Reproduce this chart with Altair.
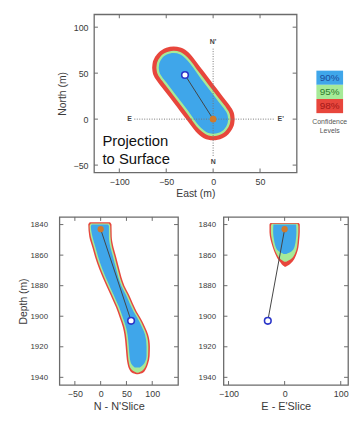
import altair as alt
import pandas as pd

FONT = "Liberation Sans"
FRAME = "#6b6b6b"
TXT = "#3a3a3a"
RED, GREEN, BLUE = "#e8463c", "#a6ea98", "#3fa6ea"

# ---------------- Top panel: projection to surface ----------------
# confidence contours: East value, lower / upper North (m)
red_e = [-65, -64.5, -63, -60, -55, -50, -42, -35, -28, -23.6, -18.4, -10, 0, 10, 18.4, 21, 22.5, 23]
red_lo = [56, 51.2, 46.6, 41.7, 35.0, 28.3, 17.7, 8.3, -1.0, -6.9, -13.8, -20.7, -23, -20.7, -13.8, -9.4, -4.8, 0]
red_hi = [56, 60.8, 65.4, 70.3, 75, 77.6, 79, 77.9, 74.2, 69.8, 62.9, 51.7, 38.3, 25.0, 13.8, 9.4, 4.8, 0]

green_e = [-60.5, -60, -59, -56.8, -52, -42, -35, -27.2, -14.8, -5, 0, 8, 14.8, 17, 18, 18.5]
green_lo = [56, 51.7, 48.7, 44.9, 38.5, 25.2, 15.8, 5.4, -11.1, -17.8, -18.5, -16.7, -11.1, -7.3, -4.3, 0]
green_hi = [56, 60.3, 63.3, 67.1, 71.6, 74.5, 73.1, 67.1, 50.6, 37.5, 30.8, 20.2, 11.1, 7.3, 4.3, 0]

blue_e = [-58, -57.5, -57, -54.8, -50, -42, -35, -29.2, -12.8, -5, 0, 6, 12.8, 15, 15.5, 16]
blue_lo = [56, 52, 50.4, 46.4, 40.0, 29.3, 20.0, 12.3, -9.6, -15.2, -16, -14.8, -9.6, -5.6, -4.0, 0]
blue_hi = [56, 60, 61.6, 65.6, 69.9, 72, 70.4, 65.6, 43.7, 33.3, 26.7, 18.7, 9.6, 5.6, 4.0, 0]

# hypocentre estimates (East, North, Depth)
start_e, start_n, start_d = -30, 48, 1903   # blue circle
end_e, end_n, end_d = 0, 0, 1843            # orange dot
nn_start_x = 59                             # blue circle on the N-N' slice

# section lines and labels
ee_line = {"x": [-84], "x2": [66], "y": [0]}
nn_line = {"x": [0], "y": [-40], "y2": [77]}
sec_lab = ["E", "E'", "N'", "N"]
sec_x = [-89, 72, 0, 0]
sec_y = [0, 0, 84, -47]

top_xticks = [-100, -50, 0, 50]
top_yticks = [-50, 0, 50, 100]

# ---------------- N - N' slice ----------------
nn_red_d = [1838.5, 1840, 1848, 1855, 1861, 1869, 1880, 1886, 1897, 1901, 1907, 1912, 1920, 1926, 1931, 1935, 1937, 1938]
nn_red_l = [-21, -24, -22, -16, -11, -3, 11, 19, 33, 37, 43, 46, 48.5, 50, 52, 56, 61, 70]
nn_red_r = [18, 21, 21.5, 25, 30, 36, 46, 55, 70, 77, 86, 92, 95.5, 95, 92, 87, 82, 72]

nn_green_d = [1839.3, 1841, 1848, 1855, 1861, 1869, 1880, 1886, 1897, 1901, 1907, 1912, 1920, 1926, 1931, 1934, 1936, 1937]
nn_green_l = [-19, -21.5, -19, -13, -8, 0, 14, 22, 36, 40, 46, 49, 51.5, 53, 55, 58, 64, 70]
nn_green_r = [16, 18.5, 19, 22, 27, 33, 43, 52, 67, 74, 83, 89, 92.5, 92, 89, 85, 79, 73]

nn_blue_d = [1840, 1841, 1848, 1855, 1861, 1869, 1880, 1886, 1897, 1901, 1907, 1912, 1920, 1926, 1930, 1932, 1933.5]
nn_blue_l = [-17, -19, -16, -10, -5, 3, 17, 25, 39, 43, 49, 52, 54.5, 56, 58, 61, 66]
nn_blue_r = [14, 16, 16, 19, 24, 30, 40, 49, 64, 71, 80, 86, 89, 89, 86, 82, 76]

nn_xticks = [-50, 0, 50, 100]

# ---------------- E - E' slice ----------------
ee_red_d = [1839, 1840, 1845, 1850, 1855, 1859, 1862, 1865, 1866.8, 1867.6]
ee_red_l = [-25, -27, -27, -25, -21, -17, -13, -7, -3, 0]
ee_red_r = [25, 27, 27, 26, 24.5, 21.5, 18, 12, 6, 2]

ee_green_d = [1839.5, 1841, 1845, 1850, 1855, 1859, 1862, 1863.5, 1864.3]
ee_green_l = [-23, -24.5, -24.5, -22.5, -19, -14.5, -9, -4, -1]
ee_green_r = [23, 24.5, 24.5, 23.5, 22, 18.5, 13, 7, 3]

ee_blue_d = [1840, 1845, 1850, 1854, 1857, 1858.5, 1859.2]
ee_blue_l = [-20, -20.5, -19, -16.5, -12, -6, -2]
ee_blue_r = [20.5, 21, 20, 18, 14, 8, 3]

ee_xticks = [-100, 0, 100]
depth_ticks = [1840, 1860, 1880, 1900, 1920, 1940]

# ---------------- legend ----------------
levels = ["90%", "95%", "98%"]
level_fill = [BLUE, GREEN, RED]
level_txt = ["#1b4b9b", "#2e7d2e", "#a31818"]


class Panel:
    def __init__(self, xs, ys, xaxis, yaxis):
        self.xs, self.ys, self.xaxis, self.yaxis = xs, ys, xaxis, yaxis

    def X(self, f):
        return alt.X(f, scale=self.xs, axis=self.xaxis)

    def Y(self, f):
        return alt.Y(f, scale=self.ys, axis=self.yaxis)


def frame_ticks(p, xvals, yvals, w, h, L=4):
    xt = alt.Chart(pd.DataFrame({"v": xvals})).mark_rule(color=FRAME, strokeWidth=1)
    yt = alt.Chart(pd.DataFrame({"v": yvals})).mark_rule(color=FRAME, strokeWidth=1)
    return [
        xt.encode(x=p.X("v:Q"), y=alt.value(h), y2=alt.value(h - L)),
        xt.encode(x=p.X("v:Q"), y=alt.value(0), y2=alt.value(L)),
        yt.encode(y=p.Y("v:Q"), x=alt.value(0), x2=alt.value(L)),
        yt.encode(y=p.Y("v:Q"), x=alt.value(w), x2=alt.value(w - L)),
    ]


# ---------- top chart ----------
TW, TH = 205, 160
tp = Panel(alt.Scale(domain=[-127, 89], nice=False, zero=False),
           alt.Scale(domain=[-58, 114], nice=False, zero=False),
           alt.Axis(values=top_xticks, title="East (m)", labelPadding=5, titlePadding=2),
           alt.Axis(values=top_yticks, title="North (m)", labelPadding=6, titlePadding=6))


def top_area(e, lo, hi, color):
    df = pd.DataFrame({"e": e, "lo": lo, "hi": hi})
    return alt.Chart(df).mark_area(color=color, interpolate="monotone").encode(
        x=tp.X("e:Q"), y=tp.Y("lo:Q"), y2="hi:Q")


top_layers = [
    top_area(red_e, red_lo, red_hi, RED),
    top_area(green_e, green_lo, green_hi, GREEN),
    top_area(blue_e, blue_lo, blue_hi, BLUE),
]
dot = dict(color="#777777", strokeWidth=1, strokeDash=[1, 1.5])
top_layers.append(alt.Chart(pd.DataFrame(ee_line)).mark_rule(**dot).encode(
    x=tp.X("x:Q"), x2="x2:Q", y=tp.Y("y:Q")))
top_layers.append(alt.Chart(pd.DataFrame(nn_line)).mark_rule(**dot).encode(
    x=tp.X("x:Q"), y=tp.Y("y:Q"), y2="y2:Q"))
seg = pd.DataFrame({"x": [start_e, end_e], "y": [start_n, end_n]})
top_layers.append(alt.Chart(seg).mark_line(color="#444444", strokeWidth=1).encode(
    x=tp.X("x:Q"), y=tp.Y("y:Q")))
top_layers.append(alt.Chart(pd.DataFrame({"x": [end_e], "y": [end_n]})).mark_point(
    filled=True, color="#d07a2c", size=45, opacity=1).encode(x=tp.X("x:Q"), y=tp.Y("y:Q")))
top_layers.append(alt.Chart(pd.DataFrame({"x": [start_e], "y": [start_n]})).mark_point(
    filled=False, color="#2a35c8", fill="white", fillOpacity=1, strokeWidth=1.6, size=45,
    opacity=1).encode(x=tp.X("x:Q"), y=tp.Y("y:Q")))
top_layers.append(alt.Chart(pd.DataFrame({"t": sec_lab, "x": sec_x, "y": sec_y})).mark_text(
    font=FONT, fontSize=7, fontWeight="bold", color="#444444").encode(
    x=tp.X("x:Q"), y=tp.Y("y:Q"), text="t:N"))
top_layers.append(alt.Chart(pd.DataFrame({"t": ["Projection\nto Surface"], "x": [-118], "y": [-24]})).mark_text(
    font=FONT, fontSize=15, align="left", baseline="middle", lineBreak="\n", lineHeight=18,
    color="#111111").encode(x=tp.X("x:Q"), y=tp.Y("y:Q"), text="t:N"))
top_layers += frame_ticks(tp, top_xticks, top_yticks, TW, TH)
top = alt.layer(*top_layers).properties(width=TW, height=TH)

# legend
leg_df = pd.DataFrame({"level": levels, "fill": level_fill, "tc": level_txt})
leg_y = alt.Y("level:N", sort=levels, axis=None,
              scale=alt.Scale(paddingInner=0, paddingOuter=0, range=[57, 100]))
leg_rect = alt.Chart(leg_df).mark_rect().encode(
    y=leg_y, x=alt.value(0), x2=alt.value(27), color=alt.Color("fill:N", scale=None))
leg_txt = alt.Chart(leg_df).mark_text(font=FONT, fontSize=10).encode(
    y=leg_y, x=alt.value(13.5), text="level:N", color=alt.Color("tc:N", scale=None))
legend = alt.layer(leg_rect, leg_txt).properties(
    width=27, height=100,
    title=alt.TitleParams(["Confidence", "Levels"], orient="bottom", fontSize=7, font=FONT,
                          fontWeight="normal", color="#555555", offset=5, lineHeight=9),
    view=alt.ViewBackground(stroke="transparent"))

spacer = alt.Chart(pd.DataFrame({"a": [0]})).mark_rule(opacity=0).encode(
    x=alt.value(0), x2=alt.value(1), y=alt.value(1)).properties(
    width=1, height=10, view=alt.ViewBackground(stroke="transparent"))

top_row = alt.hconcat(spacer, alt.hconcat(top, legend, spacing=13), spacing=-5)

# ---------- bottom charts ----------
BH = 170


def slice_chart(levels_data, xdom, xticks, w, title, ytitle, lab_pad, line_x):
    p = Panel(alt.Scale(domain=xdom, nice=False, zero=False),
              alt.Scale(domain=[1835, 1945], nice=False, zero=False, reverse=True),
              alt.Axis(values=xticks, title=title, labelPadding=5, titlePadding=2, titleFontSize=11),
              alt.Axis(values=depth_ticks, title=ytitle, labelPadding=lab_pad, titlePadding=1,
                       labelFontSize=8, format="d"))
    layers = []
    for d, l, r, color in levels_data:
        df = pd.DataFrame({"y": d, "x": l, "r": r})
        layers.append(alt.Chart(df).mark_area(orient="horizontal", color=color,
                                              interpolate="monotone").encode(
            y=p.Y("y:Q"), x=p.X("x:Q"), x2="r:Q"))
    seg = pd.DataFrame({"x": [line_x[0], line_x[1]], "y": [start_d, end_d]})
    layers.append(alt.Chart(seg).mark_line(color="#444444", strokeWidth=1).encode(
        x=p.X("x:Q"), y=p.Y("y:Q"), order="y:Q"))
    layers.append(alt.Chart(pd.DataFrame({"x": [line_x[1]], "y": [end_d]})).mark_point(
        filled=True, color="#d07a2c", size=40, opacity=1).encode(x=p.X("x:Q"), y=p.Y("y:Q")))
    layers.append(alt.Chart(pd.DataFrame({"x": [line_x[0]], "y": [start_d]})).mark_point(
        filled=False, color="#2a35c8", fill="white", fillOpacity=1, strokeWidth=1.6, size=45,
        opacity=1).encode(x=p.X("x:Q"), y=p.Y("y:Q")))
    layers += frame_ticks(p, xticks, depth_ticks, w, BH)
    return alt.layer(*layers).properties(width=w, height=BH)


nn = slice_chart([(nn_red_d, nn_red_l, nn_red_r, RED),
                  (nn_green_d, nn_green_l, nn_green_r, GREEN),
                  (nn_blue_d, nn_blue_l, nn_blue_r, BLUE)],
                 [-80, 150], nn_xticks, 120, "N - N'Slice", "Depth (m)", 12, [nn_start_x, end_n])
ee = slice_chart([(ee_red_d, ee_red_l, ee_red_r, RED),
                  (ee_green_d, ee_green_l, ee_green_r, GREEN),
                  (ee_blue_d, ee_blue_l, ee_blue_r, BLUE)],
                 [-109, 113], ee_xticks, 126, "E - E'Slice", "", 8, [start_e, end_e])

bottom_row = alt.hconcat(nn, ee, spacing=17)

chart = alt.vconcat(top_row, bottom_row, spacing=15).properties(
    padding={"left": 10, "top": 2, "right": 0, "bottom": 0}
).configure_view(stroke=FRAME, strokeWidth=1.3).configure_axis(
    domain=False, ticks=False, tickSize=0, grid=False,
    labelFont=FONT, labelFontSize=9, labelColor=TXT,
    titleFont=FONT, titleFontSize=10.5, titleFontWeight="normal", titleColor=TXT,
)

chart.save("out.html", embed_options={"renderer": "svg", "actions": False})
